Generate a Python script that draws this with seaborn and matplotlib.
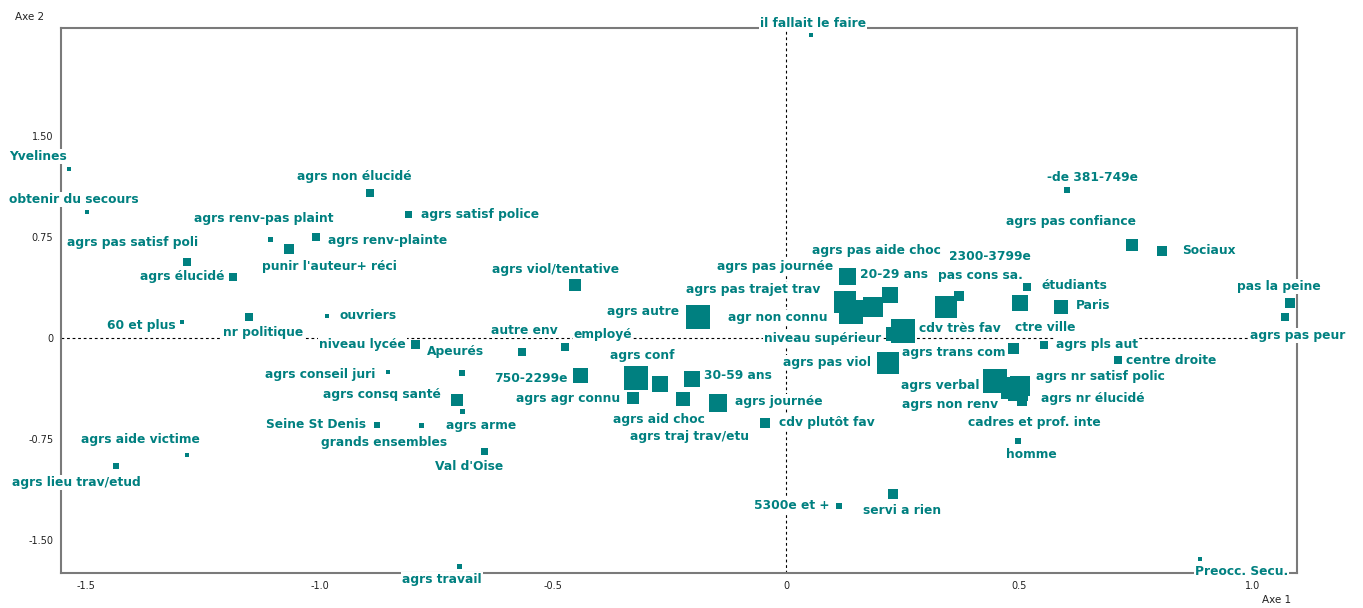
import pandas as pd
import numpy as np
import matplotlib
matplotlib.use("Agg")
import matplotlib.pyplot as plt
import seaborn as sns

# Analyse des correspondances - plan des axes 1 et 2

modalites = [
    "Yvelines", "obtenir du secours", "agrs non élucidé", "agrs satisf police",
    "agrs renv-pas plaint", "agrs renv-plainte", "punir l'auteur+ réci",
    "agrs pas satisf poli", "agrs élucidé", "60 et plus", "nr politique",
    "ouvriers", "niveau lycée", "Apeurés", "agrs conseil juri",
    "agrs consq santé", "agrs arme", "Seine St Denis", "grands ensembles",
    "Val d'Oise", "agrs aide victime", "agrs lieu trav/etud", "agrs travail",
    "il fallait le faire", "agrs viol/tentative", "autre env", "employé",
    "agrs autre", "750-2299e", "agrs conf", "agrs aid choc",
    "agrs traj trav/etu", "agrs agr connu", "30-59 ans", "agrs journée",
    "cdv plutôt fav", "5300e et +", "servi a rien", "20-29 ans",
    "agrs pas journée", "agrs pas trajet trav", "agr non connu",
    "agrs pas aide choc", "niveau supérieur", "cdv très fav", "agrs pas viol",
    "2300-3799e", "pas cons sa.", "étudiants", "ctre ville", "Paris",
    "agrs trans com", "agrs pls aut", "centre droite", "-de 381-749e",
    "agrs pas confiance", "Sociaux", "pas la peine", "agrs pas peur",
    "agrs verbal", "agrs non renv", "agrs nr satisf polic", "agrs nr élucidé",
    "cadres et prof. inte", "homme", "Preocc. Secu.",
]

axe1 = [
    -1.537, -1.498, -0.892, -0.809, -1.105, -1.008, -1.066, -1.284, -1.185,
    -1.294, -1.152, -0.984, -0.794, -0.695, -0.854, -0.706, -0.693, -0.877,
    -0.781, -0.647, -1.284, -1.436, -0.699, 0.054, -0.452, -0.566, -0.474,
    -0.189, -0.441, -0.322, -0.270, -0.221, -0.329, -0.201, -0.145, -0.045,
    0.114, 0.229, 0.131, 0.126, 0.186, 0.139, 0.223, 0.229, 0.250, 0.219,
    0.371, 0.343, 0.517, 0.501, 0.588, 0.487, 0.553, 0.711, 0.601, 0.742,
    0.806, 1.079, 1.069, 0.447, 0.484, 0.501, 0.497, 0.506, 0.497, 0.887,
]

axe2 = [
    1.255, 0.933, 1.074, 0.918, 0.728, 0.752, 0.663, 0.564, 0.453, 0.117,
    0.154, 0.166, -0.050, -0.262, -0.255, -0.460, -0.547, -0.646, -0.651,
    -0.846, -0.869, -0.950, -1.698, 2.249, 0.391, -0.102, -0.065, 0.154,
    -0.282, -0.295, -0.344, -0.455, -0.448, -0.304, -0.485, -0.629, -1.245,
    -1.160, 0.455, 0.267, 0.230, 0.193, 0.319, 0.030, 0.052, -0.183, 0.312,
    0.228, 0.376, 0.258, 0.228, -0.082, -0.050, -0.166, 1.099, 0.690, 0.648,
    0.258, 0.154, -0.321, -0.371, -0.356, -0.393, -0.468, -0.762, -1.643,
]

# poids des modalites (taille des carres)
masse = [
    16, 16, 64, 49, 25, 64, 100, 64, 64, 16, 64, 16, 81, 36, 16, 144, 25, 36,
    25, 49, 16, 36, 25, 16, 144, 64, 64, 576, 225, 576, 256, 196, 144, 256,
    324, 100, 36, 100, 289, 484, 400, 576, 256, 196, 576, 484, 100, 484, 64,
    256, 196, 121, 64, 64, 36, 144, 100, 100, 64, 576, 484, 400, 400, 100, 36,
    16,
]

# position des etiquettes par rapport au point (pixels, ha)
place = {
    "Yvelines": (-31, 12, "center"), "obtenir du secours": (-13, 13, "center"),
    "agrs non élucidé": (-16, 17, "center"), "agrs satisf police": (12, 0, "left"),
    "agrs renv-pas plaint": (-7, 21, "center"), "agrs renv-plainte": (12, -4, "left"),
    "punir l'auteur+ réci": (41, -18, "center"), "agrs pas satisf poli": (-54, 19, "center"),
    "agrs élucidé": (-9, 0, "right"), "60 et plus": (-7, -3, "right"),
    "nr politique": (15, -15, "center"), "ouvriers": (13, 0, "left"),
    "niveau lycée": (-10, 0, "right"), "Apeurés": (-6, 22, "center"),
    "agrs conseil juri": (-12, -2, "right"), "agrs consq santé": (-16, 5, "right"),
    "agrs arme": (18, -14, "center"), "Seine St Denis": (-11, 0, "right"),
    "grands ensembles": (-38, -17, "center"), "Val d'Oise": (-15, -15, "center"),
    "agrs aide victime": (-47, 15, "center"), "agrs lieu trav/etud": (-40, -17, "center"),
    "agrs travail": (-18, -13, "center"), "il fallait le faire": (2, 11, "center"),
    "agrs viol/tentative": (-20, 16, "center"), "autre env": (2, 21, "center"),
    "employé": (38, 12, "center"), "agrs autre": (-19, 6, "right"),
    "750-2299e": (-13, -3, "right"), "agrs conf": (6, 22, "center"),
    "agrs aid choc": (-1, -35, "center"), "agrs traj trav/etu": (6, -37, "center"),
    "agrs agr connu": (-12, 0, "right"), "30-59 ans": (12, 3, "left"),
    "agrs journée": (17, 2, "left"), "cdv plutôt fav": (14, 0, "left"),
    "5300e et +": (-10, 0, "right"), "servi a rien": (9, -16, "center"),
    "20-29 ans": (13, 2, "left"), "agrs pas journée": (-12, 35, "right"),
    "agrs pas trajet trav": (-53, 17, "right"), "agr non connu": (-24, -6, "right"),
    "agrs pas aide choc": (-14, 44, "center"), "niveau supérieur": (-12, -5, "right"),
    "cdv très fav": (16, 2, "left"), "agrs pas viol": (-17, 0, "right"),
    "2300-3799e": (31, 39, "center"), "pas cons sa.": (34, 32, "center"),
    "étudiants": (14, 2, "left"), "ctre ville": (25, -24, "center"),
    "Paris": (15, 2, "left"), "agrs trans com": (-8, -4, "right"),
    "agrs pls aut": (12, 0, "left"), "centre droite": (8, 0, "left"),
    "-de 381-749e": (26, 12, "center"), "agrs pas confiance": (-61, 23, "center"),
    "Sociaux": (20, 0, "left"), "pas la peine": (-11, 17, "center"),
    "agrs pas peur": (13, -18, "center"), "agrs verbal": (-15, -4, "right"),
    "agrs non renv": (-14, -17, "right"), "agrs nr satisf polic": (16, 9, "left"),
    "agrs nr élucidé": (23, -8, "left"), "cadres et prof. inte": (12, -22, "center"),
    "homme": (13, -14, "center"), "Preocc. Secu.": (-5, -12, "left"),
}

teal = "#008080"
px = 0.72  # 1 pixel en points a 100 dpi

df = pd.DataFrame({"modalite": modalites, "axe1": axe1, "axe2": axe2, "masse": masse})

sns.set_style("white")
plt.rcParams['font.family'] = ['DejaVu Sans']

fig = plt.figure(figsize=(13.63, 6.08), dpi=100)
ax = fig.add_axes([0.04475, 0.05757, 0.9069, 0.8964])

ax.axhline(0, color="black", lw=0.8, ls=(0, (2.5, 2.5)), zorder=1)
ax.axvline(0, color="black", lw=0.8, ls=(0, (2.5, 2.5)), zorder=1)

sns.scatterplot(data=df, x="axe1", y="axe2", size="masse",
                sizes=(px**2 * min(masse), px**2 * max(masse)),
                size_norm=(min(masse), max(masse)),
                marker="s", color=teal, linewidth=0, legend=False,
                ax=ax, zorder=5)

for lab, x, y in zip(modalites, axe1, axe2):
    dx, dy, ha = place[lab]
    ax.annotate(lab, (x, y), xytext=(dx * px, dy * px), textcoords="offset points",
                ha=ha, va="center", fontsize=8.8, fontweight="bold", color=teal,
                bbox=dict(boxstyle="square,pad=0.08", fc="white", ec="none"),
                zorder=4, annotation_clip=False)

ax.set_xlim(-1.554, 1.095)
ax.set_ylim(-1.745, 2.301)
ax.set_xticks([-1.5, -1.0, -0.5, 0, 0.5, 1.0])
ax.set_xticklabels(["-1.5", "-1.0", "-0.5", "0", "0.5", "1.0"])
ax.set_yticks([1.5, 0.75, 0, -0.75, -1.5])
ax.set_yticklabels(["1.50", "0.75", "0", "-0.75", "-1.50"])
ax.tick_params(direction="inout", length=7, width=0.8, colors="black",
               labelsize=7, labelcolor="#222222", pad=2)
ax.set_xlabel("")
ax.set_ylabel("")
for sp in ax.spines.values():
    sp.set_color("#7a7a7a")
    sp.set_linewidth(1.5)
    sp.set_zorder(2)

fig.text(30 / 1363, 1 - 17 / 608, "Axe 2", ha="center", va="center", fontsize=7.5, color="#222222")
fig.text(1277 / 1363, 1 - 600 / 608, "Axe 1", ha="center", va="center", fontsize=7.5, color="#222222")

fig.savefig("out.png", dpi=100)
